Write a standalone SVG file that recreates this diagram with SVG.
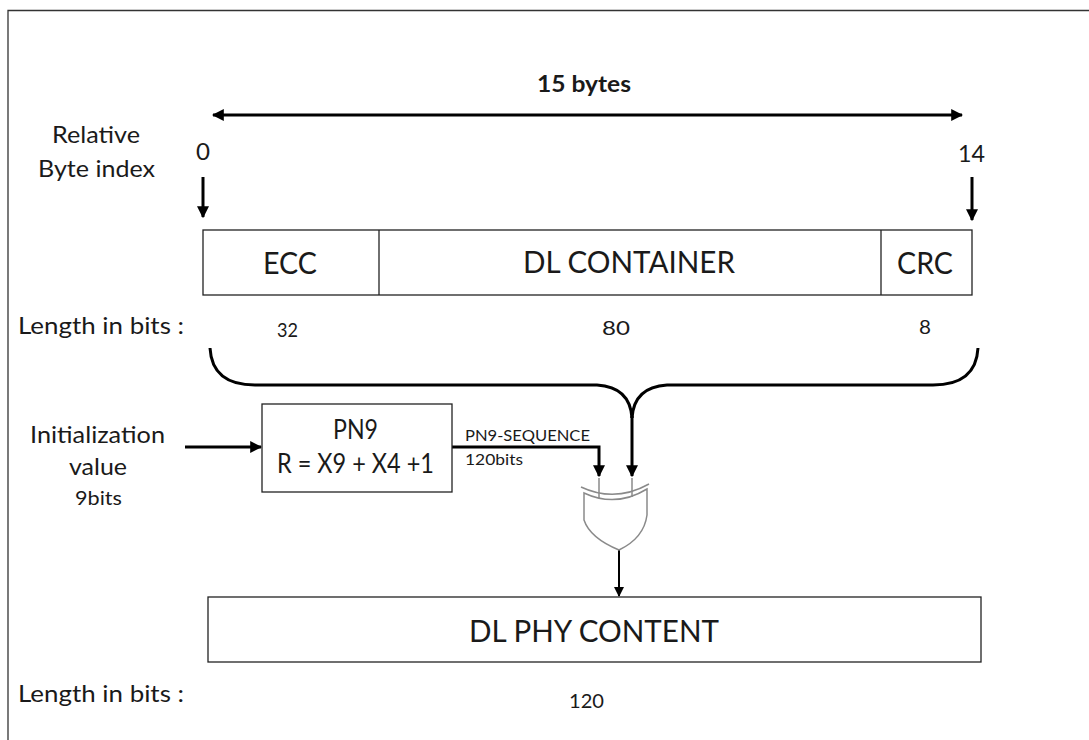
<svg xmlns="http://www.w3.org/2000/svg" width="1089" height="740" viewBox="0 0 1089 740">
<style>
text{font-family:Lato,"Open Sans","Liberation Sans",sans-serif;fill:#1a1a1a}
.big{font-size:30px}
.lbl{font-size:24px}
.num{font-size:19px}
.box{fill:#fff;stroke:#222;stroke-width:1.3}
.wire{fill:none;stroke:#000;stroke-width:3}
.thin{fill:none;stroke:#000;stroke-width:2}
.gate{fill:none;stroke:#8a8a8a;stroke-width:1.5}
</style>
<defs>
<marker id="ah" viewBox="0 0 10 10" refX="9" refY="5" markerWidth="4" markerHeight="4" orient="auto-start-reverse" markerUnits="strokeWidth"><path d="M0,0 L10,5 L0,10 z" fill="#000"/></marker>
<marker id="ah2" viewBox="0 0 10 10" refX="9" refY="5" markerWidth="5" markerHeight="5" orient="auto" markerUnits="strokeWidth"><path d="M0,0 L10,5 L0,10 z" fill="#000"/></marker>
</defs>
<rect width="1089" height="740" fill="#fff"/>
<path d="M8,740 L8,10.5 L1089,10.5" fill="none" stroke="#333" stroke-width="1.3"/>

<g id="labels">
<text x="537" y="92" style="font-size:23px;font-weight:bold" textLength="94" lengthAdjust="spacingAndGlyphs">15 bytes</text>
<text x="52" y="143" class="lbl" textLength="88" lengthAdjust="spacingAndGlyphs">Relative</text>
<text x="38" y="177" class="lbl" textLength="117" lengthAdjust="spacingAndGlyphs">Byte index</text>
<text x="196" y="160" class="lbl" textLength="14" lengthAdjust="spacingAndGlyphs">0</text>
<text x="958" y="162" class="lbl" textLength="27" lengthAdjust="spacingAndGlyphs">14</text>
<text x="18" y="334" class="lbl" textLength="166" lengthAdjust="spacingAndGlyphs">Length in bits :</text>
<text x="277" y="337" class="num" textLength="21" lengthAdjust="spacingAndGlyphs">32</text>
<text x="602" y="335" class="num" textLength="28" lengthAdjust="spacingAndGlyphs">80</text>
<text x="919" y="334" class="num" textLength="12" lengthAdjust="spacingAndGlyphs">8</text>
<text x="30" y="443" class="lbl" textLength="135" lengthAdjust="spacingAndGlyphs">Initialization</text>
<text x="69" y="475" class="lbl" textLength="58" lengthAdjust="spacingAndGlyphs">value</text>
<text x="75" y="505" style="font-size:19px" textLength="47" lengthAdjust="spacingAndGlyphs">9bits</text>
<text x="465" y="441" style="font-size:15px" textLength="125" lengthAdjust="spacingAndGlyphs">PN9-SEQUENCE</text>
<text x="465" y="465" style="font-size:15px" textLength="58" lengthAdjust="spacingAndGlyphs">120bits</text>
<text x="18" y="702" class="lbl" textLength="166" lengthAdjust="spacingAndGlyphs">Length in bits :</text>
<text x="569" y="708" class="num" textLength="35" lengthAdjust="spacingAndGlyphs">120</text>
</g>

<g id="connectors">
<line x1="213" y1="115" x2="962" y2="115" class="wire" marker-start="url(#ah)" marker-end="url(#ah)"/>
<line x1="203" y1="177" x2="203" y2="217" class="wire" marker-end="url(#ah)"/>
<line x1="972" y1="177" x2="972" y2="220" class="wire" marker-end="url(#ah)"/>
<path d="M210,348 Q212,385 255,385 L597,385 Q630,387 632,418" class="wire"/>
<path d="M978,348 Q976,385 933,385 L667,385 Q634,387 632,418" class="wire"/>
<line x1="632" y1="416" x2="632" y2="476" class="wire" marker-end="url(#ah)"/>
<line x1="185" y1="447" x2="261" y2="447" class="wire" marker-end="url(#ah)"/>
<path d="M452,447 L599,447 L599,476" class="wire" marker-end="url(#ah)"/>
<line x1="619" y1="550" x2="619" y2="596" class="thin" marker-end="url(#ah2)"/>
</g>

<g id="frame">
<rect x="203" y="230" width="769" height="65" class="box"/>
<line x1="379" y1="230" x2="379" y2="295" stroke="#222" stroke-width="1.3"/>
<line x1="881" y1="230" x2="881" y2="295" stroke="#222" stroke-width="1.3"/>
<text x="263" y="274" class="big" textLength="54" lengthAdjust="spacingAndGlyphs">ECC</text>
<text x="523" y="273" class="big" textLength="212" lengthAdjust="spacingAndGlyphs">DL CONTAINER</text>
<text x="897" y="274" class="big" textLength="56" lengthAdjust="spacingAndGlyphs">CRC</text>
</g>

<g id="pn9">
<rect x="262" y="404" width="190" height="88" class="box"/>
<text x="333" y="439" style="font-size:26px" textLength="45" lengthAdjust="spacingAndGlyphs">PN9</text>
<text x="277" y="473" style="font-size:26px" textLength="157" lengthAdjust="spacingAndGlyphs">R = X9 + X4 +1</text>
</g>

<g id="xor">
<path d="M581,487 Q615,503 649,484" class="gate"/>
<path d="M584,493 Q616,508 647,489 L647,515 Q644,538 619,550 Q590,538 584,520 Z" class="gate" fill="#fff"/>
<line x1="599" y1="478" x2="599" y2="498" class="gate"/>
<line x1="632" y1="478" x2="632" y2="497" class="gate"/>
</g>

<g id="phy">
<rect x="208" y="597" width="773" height="65" class="box"/>
<text x="469" y="642" class="big" textLength="250" lengthAdjust="spacingAndGlyphs">DL PHY CONTENT</text>
</g>
</svg>
